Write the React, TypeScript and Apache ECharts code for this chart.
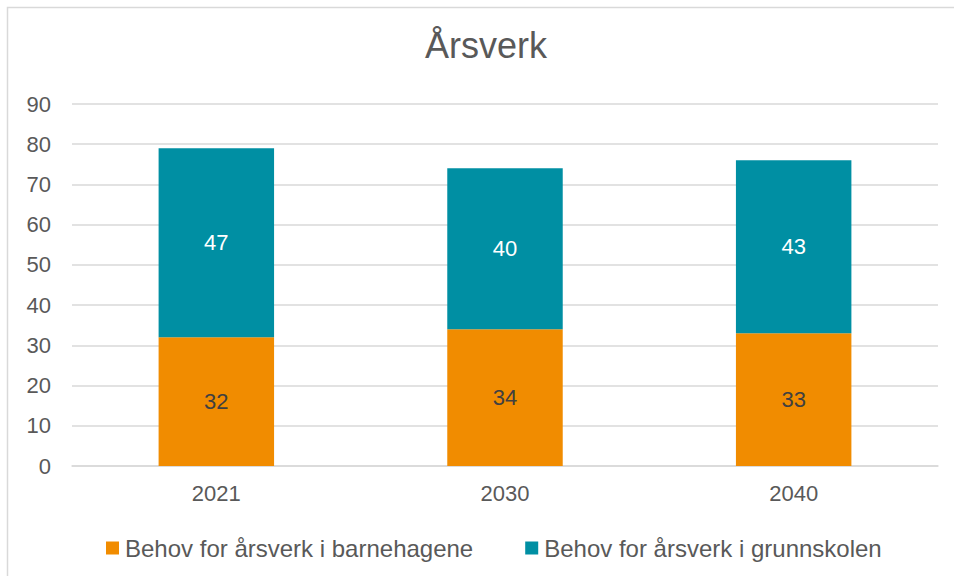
import React, { useEffect, useRef } from "react";
import * as echarts from "echarts";

const categories = ["2021", "2030", "2040"];
const barnehagene = [32, 34, 33];
const grunnskolen = [47, 40, 43];
const seriesNames = ["Behov for årsverk i barnehagene", "Behov for årsverk i grunnskolen"];
const titleText = "Årsverk";

export default function App() {
  const ref = useRef<HTMLDivElement>(null);
  useEffect(() => {
    if (!ref.current) return;
    const chart = echarts.init(ref.current, null, { renderer: "svg" });
    const font = "'Liberation Sans', Arial, sans-serif";
    chart.setOption({
      animation: false,
      backgroundColor: "#ffffff",
      textStyle: { fontFamily: font },
      title: {
        text: titleText,
        left: 425,
        top: 27,
        padding: 0,
        textStyle: { fontSize: 36, fontWeight: "normal", color: "#595959", fontFamily: font },
      },
      graphic: [
        {
          type: "rect",
          shape: { x: 7.5, y: 7.5, width: 960, height: 600 },
          style: { fill: "none", stroke: "#d9d9d9", lineWidth: 1.5 },
          silent: true,
        },
      ],
      legend: {
        bottom: 16,
        left: 106,
        padding: 0,
        itemWidth: 13,
        itemHeight: 13,
        itemGap: 52,
        icon: "rect",
        textStyle: { fontSize: 24, color: "#595959", fontFamily: font, padding: [0, 0, 0, 1] },
        data: seriesNames,
      },
      grid: { left: 72, right: 16, top: 104, bottom: 110 },
      xAxis: {
        type: "category",
        data: categories,
        axisLine: { lineStyle: { color: "#d9d9d9", width: 1.5 } },
        axisTick: { show: false },
        axisLabel: { fontSize: 22, color: "#595959", margin: 16, fontFamily: font },
      },
      yAxis: {
        type: "value",
        min: 0,
        max: 90,
        interval: 10,
        axisLine: { show: false },
        axisTick: { show: false },
        axisLabel: { fontSize: 22, color: "#595959", margin: 21, fontFamily: font },
        splitLine: { lineStyle: { color: "#d9d9d9", width: 1.5 } },
      },
      series: [
        {
          name: seriesNames[0],
          type: "bar",
          stack: "total",
          data: barnehagene,
          barWidth: "40%",
          itemStyle: { color: "#F18C00" },
          label: { show: true, position: "inside", fontSize: 22, color: "#404040", fontFamily: font },
        },
        {
          name: seriesNames[1],
          type: "bar",
          stack: "total",
          data: grunnskolen,
          barWidth: "40%",
          itemStyle: { color: "#008FA3" },
          label: { show: true, position: "inside", fontSize: 22, color: "#ffffff", fontFamily: font },
        },
      ],
    });
    return () => chart.dispose();
  }, []);
  return (
    <div
      ref={ref}
      style={{ position: "fixed", left: 0, top: 0, width: 954, height: 576 }}
    />
  );
}
